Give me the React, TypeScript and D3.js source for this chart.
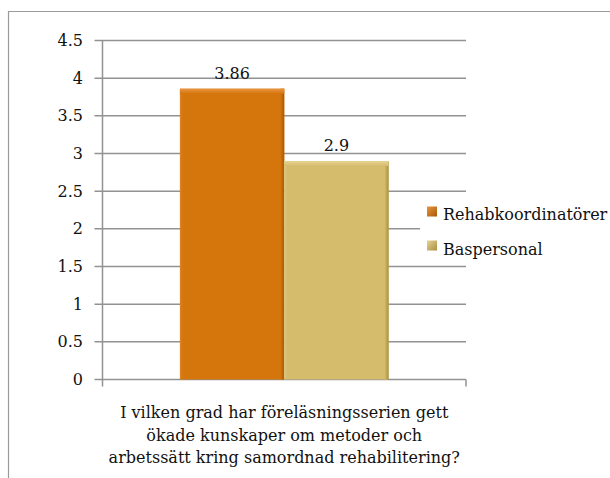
import React from "react";
import * as d3 from "d3";

const categories = ["I vilken grad har föreläsningsserien gett ökade kunskaper om metoder och arbetssätt kring samordnad rehabilitering?"];
const categoryLines = [
  "I vilken grad har föreläsningsserien gett",
  "ökade kunskaper om metoder och",
  "arbetssätt kring samordnad rehabilitering?",
];
const seriesNames = ["Rehabkoordinatörer", "Baspersonal"];
const seriesValues = [3.86, 2.9];
const valueLabels = ["3.86", "2.9"];
const yTicks = [0, 0.5, 1, 1.5, 2, 2.5, 3, 3.5, 4, 4.5];

const W = 610;
const H = 478;
const FONT = "DejaVu Serif";
const FS = 16;

const colors = [
  { main: "#D5760D", light: "#E99440", dark: "#A85A08" },
  { main: "#D5BC6D", light: "#E8D394", dark: "#A8903F" },
];

export default function App() {
  const left = 102.5;
  const right = 466;
  const top = 40.5;
  const bottom = 379.5;

  const y = d3.scaleLinear().domain([0, 4.5]).range([bottom, top]);
  const x0 = d3.scaleBand<string>().domain(categories).range([left, right]).padding(0);
  const x1 = d3
    .scaleBand<string>()
    .domain(seriesNames)
    .range([0, x0.bandwidth()])
    .paddingInner(0)
    .paddingOuter(0.742);

  const cx = (x0(categories[0]) ?? 0) + x0.bandwidth() / 2;

  return (
    <svg
      width={W}
      height={H}
      style={{ position: "absolute", left: 0, top: 0, background: "#fff", fontFamily: FONT }}
    >
      <defs>
        {colors.map((c, i) => (
          <React.Fragment key={i}>
            <linearGradient id={`top${i}`} x1="0" y1="0" x2="0" y2="1">
              <stop offset="0" stopColor={c.light} />
              <stop offset="1" stopColor={c.main} />
            </linearGradient>
            <linearGradient id={`right${i}`} x1="0" y1="0" x2="1" y2="0">
              <stop offset="0" stopColor={c.main} />
              <stop offset="1" stopColor={c.dark} />
            </linearGradient>
            <linearGradient id={`left${i}`} x1="0" y1="0" x2="1" y2="0">
              <stop offset="0" stopColor={c.light} stopOpacity={0.5} />
              <stop offset="1" stopColor={c.main} stopOpacity={0} />
            </linearGradient>
            <linearGradient id={`leg${i}`} x1="0" y1="0" x2="1" y2="1">
              <stop offset="0" stopColor={c.light} />
              <stop offset="1" stopColor={c.dark} />
            </linearGradient>
          </React.Fragment>
        ))}
      </defs>

      {/* frame */}
      <path d={`M8.5,${H} V11.5 H${W}`} fill="none" stroke="#9a9a9a" strokeWidth={1.2} />

      {/* gridlines */}
      {yTicks.map((t) => (
        <line
          key={`g${t}`}
          x1={left - 8}
          x2={right}
          y1={y(t)}
          y2={y(t)}
          stroke="#929292"
          strokeWidth={1.5}
        />
      ))}
      {/* axes */}
      <line x1={left} x2={left} y1={top} y2={bottom + 7} stroke="#929292" strokeWidth={1.5} />
      <line x1={right} x2={right} y1={bottom} y2={bottom + 7} stroke="#929292" strokeWidth={1.5} />

      {/* tick labels */}
      {yTicks.map((t) => (
        <text key={`t${t}`} x={83} y={y(t) + 5.5} textAnchor="end" fontSize={FS} fill="#111">
          {String(t)}
        </text>
      ))}

      {/* bars */}
      {seriesNames.map((s, i) => {
        const bx = (x0(categories[0]) ?? 0) + (x1(s) ?? 0);
        const bw = x1.bandwidth();
        const by = y(seriesValues[i]);
        const bh = bottom - by;
        return (
          <g key={s}>
            <rect x={bx} y={by} width={bw} height={bh} fill={colors[i].main} />
            <rect x={bx} y={by} width={4} height={bh} fill={`url(#left${i})`} />
            <rect x={bx + bw - 4} y={by} width={4} height={bh} fill={`url(#right${i})`} />
            <rect x={bx} y={by} width={bw} height={5} fill={`url(#top${i})`} />
            <text x={bx + bw / 2} y={by - 10} textAnchor="middle" fontSize={FS} fill="#111">
              {valueLabels[i]}
            </text>
          </g>
        );
      })}

      {/* category label */}
      {categoryLines.map((l, i) => (
        <text key={l} x={cx} y={418 + i * 22.7} textAnchor="middle" fontSize={FS} fill="#111">
          {l}
        </text>
      ))}

      {/* legend */}
      <rect x={420} y={200} width={W - 420} height={62} fill="#fff" />
      {seriesNames.map((s, i) => (
        <g key={`l${s}`}>
          <rect x={427} y={206.5 + i * 34} width={10} height={10} fill={`url(#leg${i})`} />
          <text x={443} y={220 + i * 34.5} fontSize={FS} fill="#111">
            {s}
          </text>
        </g>
      ))}
    </svg>
  );
}
